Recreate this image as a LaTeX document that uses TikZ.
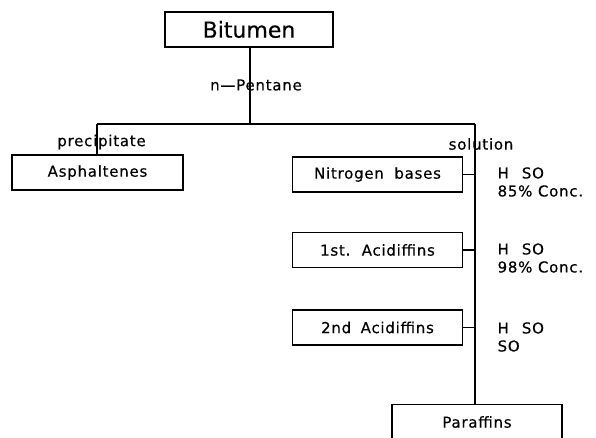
\documentclass[tikz,border=0pt]{standalone}
\usepackage{fontspec}
\setmainfont[FakeBold=0.4]{DejaVu Sans}
\newfontfamily\plotfont[LetterSpace=5,FakeBold=0.4]{DejaVu Sans}

\begin{document}
\begin{tikzpicture}[
    x=1pt, y=-1pt, line width=1.2pt,
    font=\plotfont\fontsize{15}{18}\selectfont,
    box/.style  ={draw, minimum width=170pt, minimum height=35pt, inner sep=0pt},
    io/.style   ={inner sep=0pt},
    reag/.style ={align=left, anchor=west, inner sep=0pt},
  ]
  \clip (0,0) rectangle (596,437);

  % --- feed ---
  \node[box, minimum width=168pt, font=\fontsize{22}{26}\selectfont] (bit) at (249,29.5) {Bitumen};
  \coordinate (fork) at (250,124);
  \coordinate (pl) at (97,124);
  \coordinate (sr) at (475,124);
  \draw (bit.south -| fork) -- (fork);
  \draw (pl) -- (sr);
  \node[io] (pent) at (256,85) {n\textemdash Pentane};

  % --- precipitate ---
  \node[box, minimum width=171pt] (asp) at (97.5,172.5) {Asphaltenes\hspace{26pt}};
  \draw (pl) -- (asp.north -| pl);
  \node[io] (prec) at (101.5,142) {precipitate};

  % --- solution ---
  \node[io] (sol) at (481,144) {solution};
  \node[box] (nb)  at (377.5,174.5) {Nitrogen\hspace{5pt} bases};
  \node[box] (ac1) at (377.5,250)   {1st.\hspace{4pt} Acidiffins};
  \node[box] (ac2) at (377.5,327.5) {2nd\hspace{4pt} Acidiffins};
  \node[box] (par) at (477,422)     {Paraffins};
  \draw (sr) -- (par.north -| sr);
  \foreach \b in {nb,ac1,ac2}
    \draw (\b.east) -- (\b.east -| sr);

  % --- acid steps ---
  \node[reag] (r1) at (497,182) {H\hspace{13pt}SO\\85\% Conc.};
  \node[reag] (r2) at (497,258) {H\hspace{13pt}SO\\98\% Conc.};
  \node[reag] (r3) at (497,337) {H\hspace{13pt}SO\\SO};
\end{tikzpicture}
\end{document}
